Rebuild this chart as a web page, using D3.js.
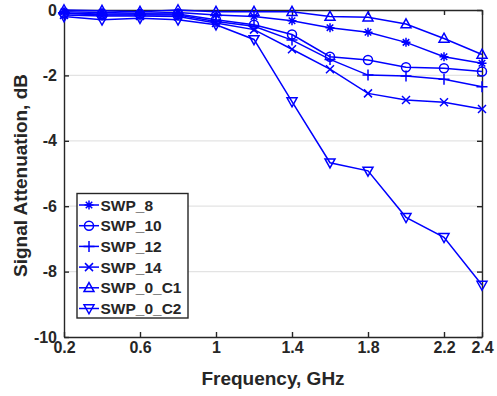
<!DOCTYPE html>
<html><head><meta charset="utf-8">
<script src="https://cdn.jsdelivr.net/npm/d3@7"></script>
<style>body{margin:0;background:#fff}svg{display:block}text{font-family:"Liberation Sans",Arial,sans-serif;font-weight:bold;fill:#262626}</style>
</head><body><svg id="c" width="497" height="396"></svg>
<script>
const freq = [0.2,0.4,0.6,0.8,1.0,1.2,1.4,1.6,1.8,2.0,2.2,2.4];
const seriesNames = ["SWP_8","SWP_10","SWP_12","SWP_14","SWP_0_C1","SWP_0_C2"];
const swp8   = [-0.05,-0.08,-0.10,-0.08,-0.15,-0.20,-0.33,-0.54,-0.68,-0.99,-1.43,-1.63];
const swp10  = [-0.10,-0.12,-0.12,-0.12,-0.30,-0.45,-0.75,-1.43,-1.53,-1.75,-1.78,-1.88];
const swp12  = [-0.10,-0.15,-0.15,-0.15,-0.35,-0.50,-0.92,-1.51,-1.99,-2.02,-2.12,-2.35];
const swp14  = [-0.15,-0.18,-0.18,-0.20,-0.40,-0.60,-1.20,-1.81,-2.55,-2.75,-2.82,-3.03];
const swpC1  = [0.00,-0.02,-0.05,0.00,-0.05,-0.05,-0.05,-0.20,-0.22,-0.43,-0.87,-1.36];
const swpC2  = [-0.20,-0.30,-0.25,-0.30,-0.45,-0.90,-2.80,-4.67,-4.92,-6.34,-6.95,-8.41];
const xTicks = [0.2,0.6,1.0,1.4,1.8,2.2,2.4];
const yTicks = [0,-2,-4,-6,-8,-10];
const markers = ["asterisk","circle","plus","cross","triUp","triDown"];
const allSeries = [swp8,swp10,swp12,swp14,swpC1,swpC2];

const svg = d3.select("#c");
const L=64, R=482, T=10, B=337;
const x = d3.scaleLinear().domain([0.2,2.4]).range([L,R]);
const y = d3.scaleLinear().domain([-10,0]).range([B,T]);
const ax = "#262626", blue = "#0000ff";

// grid
svg.append("g").selectAll("line").data([-2,-4,-6,-8]).join("line")
  .attr("x1",L).attr("x2",R).attr("y1",d=>y(d)).attr("y2",d=>y(d))
  .attr("stroke","#e3e3e3").attr("stroke-width",1.3);

// axes
const fmt = d=>String(+d.toFixed(1));
const gx = svg.append("g").attr("transform",`translate(0,${B})`)
  .call(d3.axisBottom(x).tickValues(xTicks).tickSizeInner(-5).tickSizeOuter(0).tickPadding(5).tickFormat(fmt));
const gxt = svg.append("g").attr("transform",`translate(0,${T})`)
  .call(d3.axisTop(x).tickValues(xTicks).tickSizeInner(-5).tickSizeOuter(0).tickFormat(""));
const gy = svg.append("g").attr("transform",`translate(${L},0)`)
  .call(d3.axisLeft(y).tickValues(yTicks).tickSizeInner(-5).tickSizeOuter(0).tickPadding(7).tickFormat(d=>String(d)));
const gyr = svg.append("g").attr("transform",`translate(${R},0)`)
  .call(d3.axisRight(y).tickValues(yTicks).tickSizeInner(-5).tickSizeOuter(0).tickFormat(""));
[gx,gxt,gy,gyr].forEach(g=>{
  g.select(".domain").attr("stroke",ax).attr("stroke-width",1.4);
  g.selectAll(".tick line").attr("stroke",ax).attr("stroke-width",1.4);
  g.selectAll("text").attr("font-size",16).attr("font-family","'Liberation Sans',Arial,sans-serif").attr("font-weight","bold").attr("fill","#262626");
});

function circ(r){return `M${r},0A${r},${r} 0 1,1 ${-r},0A${r},${r} 0 1,1 ${r},0Z`;}
function markerPath(type, s){
  const r=s/2;
  switch(type){
    case "circle": return circ(r);
    case "plus": return `M${-r},0H${r}M0,${-r}V${r}`;
    case "cross": {const q=r*0.8; return `M${-q},${-q}L${q},${q}M${-q},${q}L${q},${-q}`;}
    case "asterisk": {const q=r*0.72; return `M${-r},0H${r}M0,${-r}V${r}M${-q},${-q}L${q},${q}M${-q},${q}L${q},${-q}`;}
    case "triUp": return `M0,${-r*1.05}L${r},${r*0.75}L${-r},${r*0.75}Z`;
    case "triDown": return `M0,${r*1.05}L${r},${-r*0.75}L${-r},${-r*0.75}Z`;
  }
}
function mp(type){ return markerPath(type, type==="circle"?9:type==="plus"?11:type==="cross"?10:type==="asterisk"?9:10); }

const line = d3.line().x(d=>x(d[0])).y(d=>y(d[1]));
allSeries.forEach((vals,i)=>{
  const pts = freq.map((f,j)=>[f,vals[j]]);
  const g = svg.append("g");
  g.append("path").attr("d",line(pts)).attr("fill","none").attr("stroke",blue).attr("stroke-width",1.5);
  g.selectAll("path.m").data(pts).join("path").attr("class","m")
    .attr("transform",d=>`translate(${x(d[0])},${y(d[1])})`)
    .attr("d",mp(markers[i])).attr("fill","none").attr("stroke",blue).attr("stroke-width",1.5);
});

// legend
const lg = svg.append("g");
lg.append("rect").attr("x",77).attr("y",193.5).attr("width",111).attr("height",124.5)
  .attr("fill","#fff").attr("stroke",ax).attr("stroke-width",1.4);
seriesNames.forEach((n,i)=>{
  const yy = 205 + i*20.7;
  lg.append("line").attr("x1",79).attr("x2",99).attr("y1",yy).attr("y2",yy).attr("stroke",blue).attr("stroke-width",1.5);
  lg.append("path").attr("transform",`translate(89,${yy})`).attr("d",mp(markers[i])).attr("fill","none").attr("stroke",blue).attr("stroke-width",1.5);
  lg.append("text").attr("x",100.5).attr("y",yy+5.5).attr("font-size",15.5).text(n);
});

// titles
svg.append("text").attr("x",(L+R)/2).attr("y",385).attr("text-anchor","middle").attr("font-size",19).text("Frequency, GHz");
svg.append("text").attr("transform",`translate(27,${(T+B)/2+2}) rotate(-90)`).attr("text-anchor","middle").attr("font-size",19).text("Signal Attenuation, dB");
</script></body></html>
